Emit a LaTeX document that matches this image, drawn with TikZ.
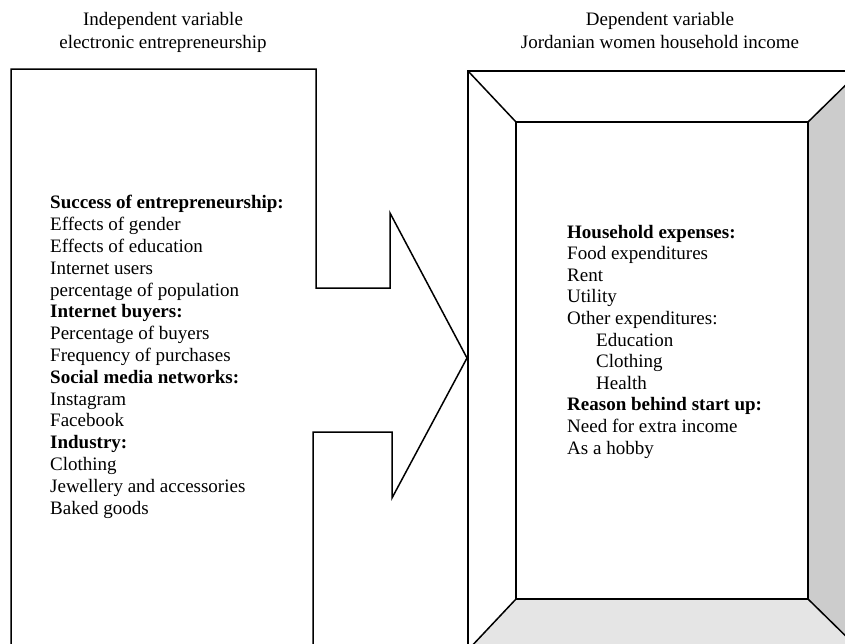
\documentclass[tikz,border=0pt]{standalone}
\usepackage{fontspec}
\setmainfont{Liberation Serif}
\definecolor{sidegray}{gray}{0.8}
\definecolor{floorgray}{gray}{0.9}
\tikzset{
  outline/.style={draw=black,line width=1.5pt,line join=miter},
  textblock/.style={anchor=base west,align=left,inner sep=0pt,font=\fontsize{19}{21.8}\selectfont},
  heading/.style={anchor=base,align=center,inner sep=0pt,font=\fontsize{19}{23}\selectfont}
}

\begin{document}
\begin{tikzpicture}[x=1pt,y=-1pt]
\useasboundingbox (0,0) rectangle (845,643);

% titles (anchored on their last line)
\node[heading] (INDEP) at (163,48) {Independent variable\\electronic entrepreneurship};
\node[heading] (DEP)   at (660,48) {Dependent variable\\Jordanian women household income};

\begin{scope}
\clip (0,0) rectangle (845,643);
% notched arrow
\draw[outline] (11,660) -- (11,69) -- (316,69) -- (316,288) -- (390,288) -- (390,213)
   -- (467,358) -- (392,498) -- (392,432) -- (313,432) -- (313,660);

% bevel frame
\coordinate (OTL) at (468,71);
\coordinate (OTR) at (860,71);
\coordinate (OBR) at (860,650);
\coordinate (OBL) at (468,650);
\coordinate (ITL) at (516,122);
\coordinate (ITR) at (808,122);
\coordinate (IBR) at (808,599);
\coordinate (IBL) at (516,599);
\fill[sidegray]  (ITR) -- (OTR) -- (OBR) -- (IBR) -- cycle;
\fill[floorgray] (IBL) -- (IBR) -- (OBR) -- (OBL) -- cycle;
\draw[outline] (OTL) rectangle (OBR);
\draw[outline] (ITL) rectangle (IBR);
\draw[outline] (OTL) -- (ITL) (OTR) -- (ITR) (OBR) -- (IBR) (OBL) -- (IBL);
\end{scope}

\node[textblock] (SUCCESS) at (50,514) {\textbf{Success of entrepreneurship:}\\
  Effects of gender\\Effects of education\\Internet users\\percentage of population\\
  \textbf{Internet buyers:}\\Percentage of buyers\\Frequency of purchases\\
  \textbf{Social media networks:}\\Instagram\\Facebook\\
  \textbf{Industry:}\\Clothing\\Jewellery and accessories\\Baked goods};

\node[textblock,font=\fontsize{19}{21.6}\selectfont] (EXPENSES) at (567,454) {\textbf{Household expenses:}\\
  Food expenditures\\Rent\\Utility\\Other expenditures:\\
  \hspace*{29pt}Education\\\hspace*{29pt}Clothing\\\hspace*{29pt}Health\\
  \textbf{Reason behind start up:}\\Need for extra income\\As a hobby};
\end{tikzpicture}
\end{document}
